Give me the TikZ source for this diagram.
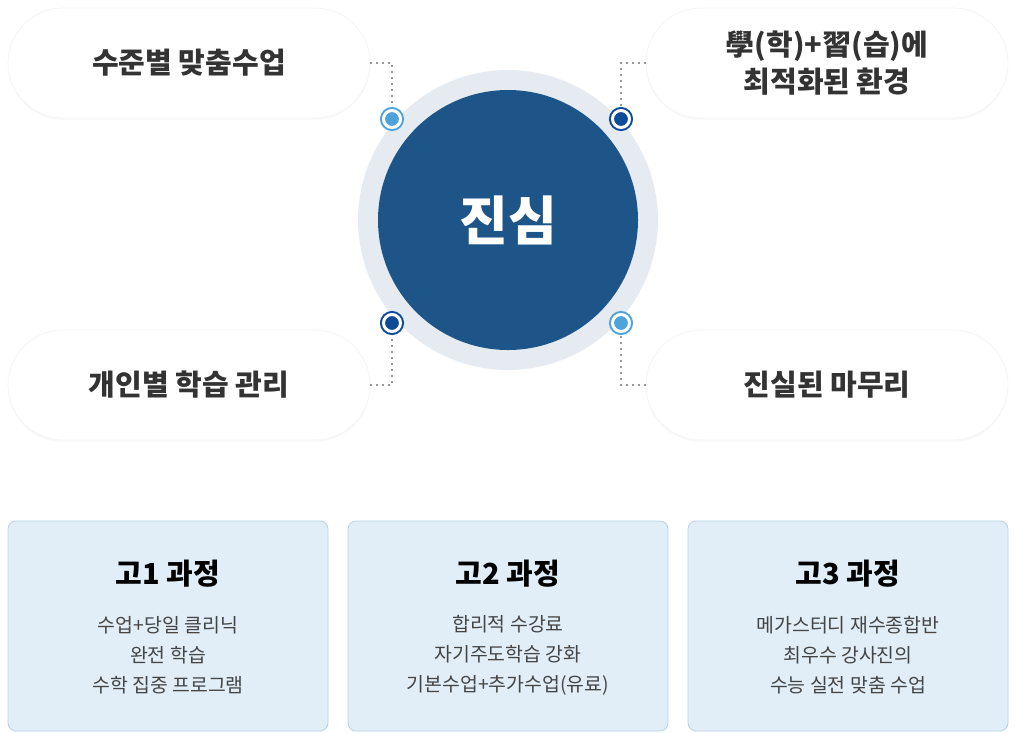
\documentclass[tikz,border=0pt]{standalone}
\usepackage{fontspec}
\setmainfont{Noto Sans CJK KR}
\usepackage{xcolor}
\usetikzlibrary{shadows, positioning}

\definecolor{SimBlue}{HTML}{1D5589}
\definecolor{SimRing}{HTML}{E6EBF2}
\definecolor{DotLight}{HTML}{4EA3DA}
\definecolor{DotDark}{HTML}{0D4A98}
\definecolor{BoxFill}{HTML}{E1EEF8}
\definecolor{BoxLine}{HTML}{B3D2E5}
\definecolor{PillText}{HTML}{333333}
\definecolor{BodyText}{HTML}{444444}

\tikzset{
	pill/.style={rectangle, rounded corners=55pt, minimum width=362pt, minimum height=110pt,
		fill=white, draw=black!4, line width=0.8pt, align=center, text=PillText,
		font=\fontsize{29}{37}\selectfont\bfseries,
		drop shadow={opacity=0.05, shadow xshift=0pt, shadow yshift=-2pt}},
	dotmark/.style={circle, minimum size=17pt, inner sep=0pt, outer sep=3.5pt,
		line width=2pt, draw=#1, fill=#1, double=white, double distance=3pt},
	link/.style={draw=black!40, line width=1.6pt, dash pattern=on 1.6pt off 4.4pt},
	course/.style={rectangle, rounded corners=8pt, minimum width=320pt, minimum height=210pt,
		fill=BoxFill, draw=BoxLine, line width=0.8pt},
	coursetitle/.style={font=\fontsize{29}{32}\selectfont\bfseries, text=black},
	coursebody/.style={align=center, font=\fontsize{19.4}{30}\selectfont, text=BodyText}
}

\begin{document}
\begin{tikzpicture}[x=1pt, y=-1pt]

	\useasboundingbox (0,0) rectangle (1016,732);

	\coordinate (O) at (508,220);

	% center circle
	\node[circle, fill=SimRing, minimum size=300pt] (halo) at (O) {};
	\node[circle, fill=SimBlue, minimum size=260pt, text=white,
		font=\fontsize{53}{56}\selectfont\bfseries] (core) at (O) {진심};

	% pills
	\node[pill] (pA) at (189,63) {수준별 맞춤수업};
	\node[pill] (pB) at (827,63) {學(학)+習(습)에\\최적화된 환경};
	\node[pill] (pC) at (189,385) {개인별 학습 관리};
	\node[pill] (pD) at (827,385) {진실된 마무리};

	\coordinate (a) at (392,119);
	\coordinate (b) at (621,119);
	\coordinate (c) at (392,323);
	\coordinate (d) at (621,323);

	\draw[link] (pA.east) -| ([yshift=-12pt]a);
	\draw[link] (pB.west) -| ([yshift=-12pt]b);
	\draw[link] (pC.east) -| ([yshift=12pt]c);
	\draw[link] (pD.west) -| ([yshift=12pt]d);

	\node[dotmark=DotLight] (dA) at (a) {};
	\node[dotmark=DotDark] (dB) at (b) {};
	\node[dotmark=DotDark] (dC) at (c) {};
	\node[dotmark=DotLight] (dD) at (d) {};

	% courses
	\node[course] (k1) at (168,626) {};
	\node[course] (k2) at (508,626) {};
	\node[course] (k3) at (848,626) {};

	\node[coursetitle] (t1) at (168,574) {고1 과정};
	\node[coursetitle] (t2) at (508,574) {고2 과정};
	\node[coursetitle] (t3) at (848,574) {고3 과정};

	\node[coursebody] (b1) at (168,655) {수업+당일 클리닉\\완전 학습\\수학 집중 프로그램};
	\node[coursebody] (b2) at (508,655) {합리적 수강료\\자기주도학습 강화\\기본수업+추가수업(유료)};
	\node[coursebody] (b3) at (848,655) {메가스터디 재수종합반\\최우수 강사진의\\수능 실전 맞춤 수업};
\end{tikzpicture}
\end{document}
